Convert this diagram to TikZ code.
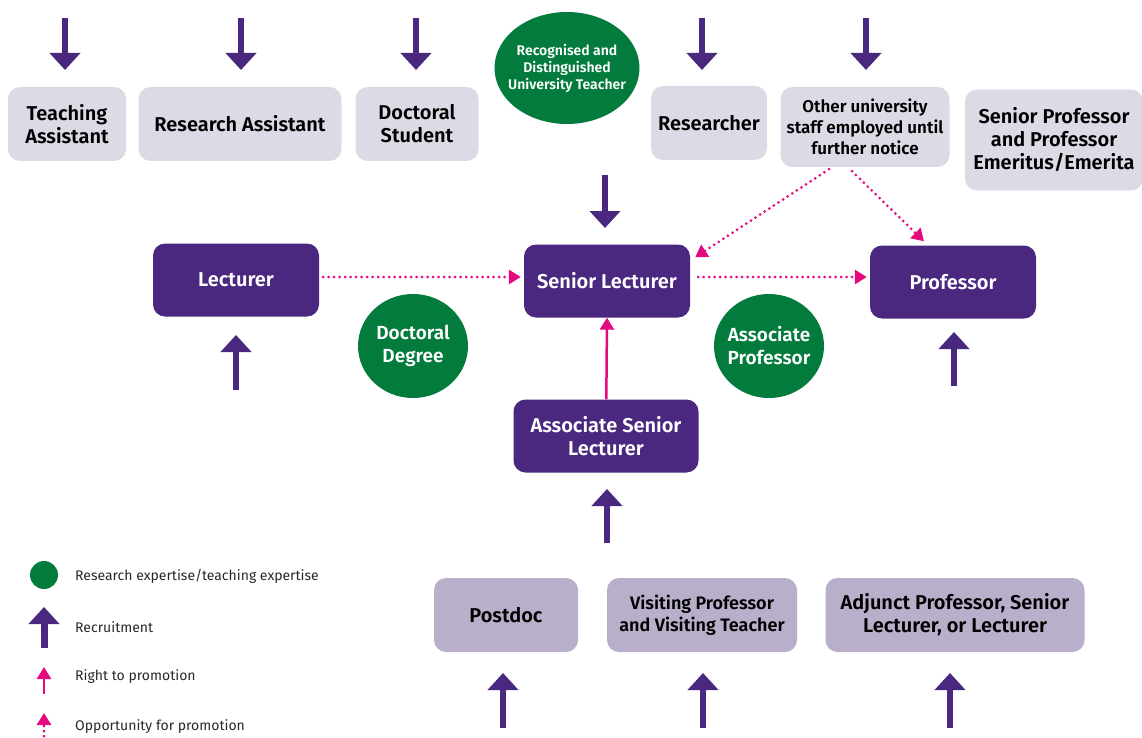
\documentclass[tikz,border=0pt]{standalone}
\usepackage{fontspec}
\setmainfont{Fira Sans}[BoldFont={Fira Sans SemiBold}]
\usetikzlibrary{arrows.meta,positioning,calc,shapes.geometric}
\definecolor{uupurple}{RGB}{75,40,128}
\definecolor{uugreen}{RGB}{2,123,60}
\definecolor{uupink}{RGB}{229,9,127}
\definecolor{lightbox}{RGB}{221,218,230}
\definecolor{midbox}{RGB}{185,175,203}
\definecolor{legendtext}{RGB}{40,40,40}

\begin{document}
\begin{tikzpicture}[x=1pt,y=-1pt, line join=round,
    staff/.style={rectangle, rounded corners=12pt, fill=lightbox, align=center, inner sep=0pt,
      font=\fontsize{20}{23}\selectfont\bfseries, text=black},
    guest/.style={staff, fill=midbox},
    post/.style={rectangle, rounded corners=12pt, fill=uupurple, align=center, inner sep=0pt,
      minimum width=166pt, minimum height=73pt, font=\fontsize{20}{23}\selectfont\bfseries, text=white},
    expert/.style={ellipse, fill=uugreen, align=center, inner sep=-14pt,
      font=\fontsize{19}{23}\selectfont\bfseries, text=white},
    recruit/.style={draw=uupurple, line width=6pt, -{Triangle[width=30pt,length=17pt]}, uupurple},
    promote/.style={draw=uupink, line width=2.5pt, -{Triangle[width=14pt,length=12pt]}, uupink},
    chance/.style={draw=uupink, line width=3pt, line cap=round, dash pattern=on 0pt off 5.5pt,
      -{Triangle[width=14pt,length=12pt]}, uupink},
    legend/.style={anchor=west, font=\fontsize{14}{16}\selectfont, text=legendtext, inner sep=0pt}]
  \useasboundingbox (0,0) rectangle (1142,738);

  % top row
  \node[staff, minimum width=118pt, minimum height=74pt] (tass) at (67,124) {Teaching\\Assistant};
  \node[staff, minimum width=203pt, minimum height=74pt] (rass) at (240,124) {Research Assistant};
  \node[staff, minimum width=123pt, minimum height=74pt] (dstud) at (417,124) {Doctoral\\Student};
  \node[expert, minimum width=145pt, minimum height=112pt, font=\fontsize{14}{17}\selectfont\bfseries] (dut) at (567,68)
    {Recognised and\\Distinguished\\University Teacher};
  \node[staff, minimum width=116pt, minimum height=74pt] (res) at (709,123) {Researcher};
  \node[staff, minimum width=169pt, minimum height=80pt, font=\fontsize{17}{21}\selectfont\bfseries] (other) at (865,127)
    {Other university\\staff employed until\\further notice};
  \node[staff, minimum width=178pt, minimum height=101pt] (emer) at (1054,140)
    {Senior Professor\\and Professor\\Emeritus/Emerita};

  \coordinate (tass in) at (65,18);
  \coordinate (rass in) at (241,18);
  \coordinate (dstud in) at (416,18);
  \coordinate (res in) at (702,18);
  \coordinate (other in) at (866,18);
  \draw[recruit] (tass in) -- ++(0,52);
  \draw[recruit] (rass in) -- ++(0,52);
  \draw[recruit] (dstud in) -- ++(0,52);
  \draw[recruit] (res in) -- ++(0,52);
  \draw[recruit] (other in) -- ++(0,52);

  % middle row
  \node[post] (lect) at (236,280) {Lecturer};
  \node[post] (senlect) at (607,281) {Senior Lecturer};
  \node[post] (prof) at (953,282) {Professor};
  \node[post, minimum width=185pt] (asl) at (606,436) {Associate Senior\\Lecturer};
  \node[expert, minimum width=110pt, minimum height=104pt] (phd) at (413,346) {Doctoral\\Degree};
  \node[expert, minimum width=110pt, minimum height=104pt] (assoc) at (769,346) {Associate\\Professor};

  \coordinate (senlect in) at (605,175);
  \coordinate (lect in) at (236,390);
  \coordinate (prof in) at (954,386);
  \coordinate (asl in) at (607,543);
  \draw[recruit] (senlect in) -- ++(0,53);
  \draw[recruit] (lect in) -- ++(0,-55);
  \draw[recruit] (prof in) -- ++(0,-54);
  \draw[recruit] (asl in) -- ++(0,-54);

  \draw[promote] (asl) -- (senlect.south);
  \draw[chance] ($(lect.east)+(4,-3)$) -- ($(senlect.west)+(-3,-4)$);
  \draw[chance] ($(senlect.east)+(8,-4)$) -- ($(prof.west)+(-3,-5)$);
  \draw[chance] ($(other.south)+(-36,2)$) -- ($(senlect.north east)+(5,13)$);
  \draw[chance] ($(other.south)+(-13,4)$) -- ($(prof.north)+(-29,-4)$);

  % bottom row
  \node[guest, minimum width=144pt, minimum height=74pt] (pdoc) at (506,615) {Postdoc};
  \node[guest, minimum width=190pt, minimum height=74pt, font=\fontsize{18}{22}\selectfont\bfseries] (visit) at (702,615)
    {Visiting Professor\\and Visiting Teacher};
  \node[guest, minimum width=259pt, minimum height=74pt] (adj) at (955,615)
    {Adjunct Professor, Senior\\Lecturer, or Lecturer};

  \coordinate (pdoc in) at (503,728);
  \coordinate (visit in) at (703,728);
  \coordinate (adj in) at (950,728);
  \draw[recruit] (pdoc in) -- ++(0,-55);
  \draw[recruit] (visit in) -- ++(0,-55);
  \draw[recruit] (adj in) -- ++(0,-55);

  % legend
  \node[circle, fill=uugreen, minimum size=28pt, inner sep=0pt] (key expert) at (44,575) {};
  \coordinate (key recruit) at (44,648);
  \coordinate (key right) at (44,694);
  \coordinate (key chance) at (44,736);
  \draw[recruit, line width=7pt] (key recruit) -- ++(0,-41);
  \draw[promote] (key right) -- ++(0,-27);
  \draw[chance, dash pattern=on 0pt off 5pt] (key chance) -- ++(0,-23);
  \node[legend] at (75,576) {Research expertise/teaching expertise};
  \node[legend] at (75,627) {Recruitment};
  \node[legend] at (75,677) {Right to promotion};
  \node[legend] at (75,727) {Opportunity for promotion};
\end{tikzpicture}
\end{document}
